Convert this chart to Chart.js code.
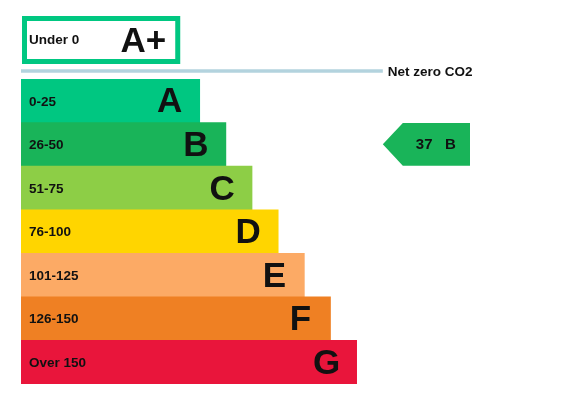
<!DOCTYPE html>
<html lang="en">
<head>
    <meta charset="UTF-8">
    <title>Energy rating</title>
    <style>
        html, body { margin: 0; padding: 0; background: #fff; }
        #epc { display: block; }
    </style>
</head>
<body>
    <canvas id="epc" width="577" height="400"></canvas>

    <script src="https://cdn.jsdelivr.net/npm/chart.js"></script>
    <script>
        // bands, from best to worst
        const bands = ['A', 'B', 'C', 'D', 'E', 'F', 'G'];
        const ranges = ['0-25', '26-50', '51-75', '76-100', '101-125', '126-150', 'Over 150'];
        const barLengths = [41, 47, 53, 59, 65, 71, 77];
        const bandColours = ['#00c781', '#19b459', '#8dce46', '#ffd500', '#fcaa65', '#ef8023', '#e9153b'];

        // extra band above the scale
        const topBand = 'A+';
        const topRange = 'Under 0';
        const netZeroLabel = 'Net zero CO2';

        // current rating
        const currentScore = 37;
        const currentBand = 'B';

        const arrowStart = 83;   // where the pointer starts, in x units
        const scaleMax = 103;

        const smallFont = 'bold 13.5px "Liberation Sans", Arial, sans-serif';
        const bigFont = 'bold 35px "Liberation Sans", Arial, sans-serif';

        const epcDecor = {
            id: 'epcDecor',
            afterDatasetsDraw(chart) {
                const ctx = chart.ctx;
                const x = chart.scales.x;
                const y = chart.scales.y;
                const area = chart.chartArea;
                const left = x.getPixelForValue(0);

                ctx.save();

                // labels on each bar
                bands.forEach((band, i) => {
                    const cy = y.getPixelForValue(i);
                    const right = x.getPixelForValue(barLengths[i]);
                    ctx.fillStyle = '#111';
                    ctx.textBaseline = 'middle';
                    ctx.textAlign = 'left';
                    ctx.font = smallFont;
                    ctx.fillText(ranges[i], left + 8, cy + 1);
                    ctx.textAlign = 'center';
                    ctx.font = bigFont;
                    ctx.fillText(band, right - 30, cy + 2);
                });

                // A+ box
                const boxTop = area.top - 63;
                const boxBottom = area.top - 15;
                const boxRight = x.getPixelForValue(36.3);
                ctx.strokeStyle = bandColours[0];
                ctx.lineWidth = 5;
                ctx.strokeRect(left + 3.5, boxTop + 2.5, boxRight - left - 5, boxBottom - boxTop - 5);
                ctx.fillStyle = '#111';
                ctx.textAlign = 'left';
                ctx.textBaseline = 'middle';
                ctx.font = smallFont;
                ctx.fillText(topRange, left + 8, (boxTop + boxBottom) / 2);
                ctx.textAlign = 'center';
                ctx.font = bigFont;
                ctx.fillText(topBand, boxRight - 36, (boxTop + boxBottom) / 2 + 2);

                // net zero line
                const lineY = area.top - 8;
                const lineEnd = x.getPixelForValue(arrowStart);
                ctx.strokeStyle = '#b3d3de';
                ctx.lineWidth = 3.5;
                ctx.beginPath();
                ctx.moveTo(left, lineY);
                ctx.lineTo(lineEnd, lineY);
                ctx.stroke();
                ctx.fillStyle = '#111';
                ctx.textAlign = 'left';
                ctx.font = smallFont;
                ctx.fillText(netZeroLabel, lineEnd + 5, lineY + 1);

                // pointer for the current rating
                const bi = bands.indexOf(currentBand);
                const cy = y.getPixelForValue(bi);
                const half = (y.getPixelForValue(1) - y.getPixelForValue(0)) / 2;
                const ax0 = x.getPixelForValue(arrowStart);
                const ax1 = x.getPixelForValue(scaleMax);
                const top = cy - half + 0.5;
                const bottom = cy + half - 0.5;
                ctx.fillStyle = bandColours[bi];
                ctx.beginPath();
                ctx.moveTo(ax0, cy);
                ctx.lineTo(ax0 + 20, top);
                ctx.lineTo(ax1, top);
                ctx.lineTo(ax1, bottom);
                ctx.lineTo(ax0 + 20, bottom);
                ctx.closePath();
                ctx.fill();
                ctx.fillStyle = '#111';
                ctx.textAlign = 'center';
                ctx.font = 'bold 15px "Liberation Sans", Arial, sans-serif';
                ctx.fillText(currentScore + '   ' + currentBand, ax0 + 53, cy + 1);

                ctx.restore();
            }
        };

        new Chart(document.getElementById('epc'), {
            type: 'bar',
            data: {
                labels: bands,
                datasets: [{
                    data: barLengths,
                    backgroundColor: bandColours,
                    borderWidth: 0,
                    categoryPercentage: 1,
                    barPercentage: 1
                }]
            },
            options: {
                indexAxis: 'y',
                responsive: false,
                animation: false,
                layout: { padding: { left: 21, top: 79, right: 107, bottom: 16 } },
                scales: {
                    x: { display: false, min: 0, max: scaleMax },
                    y: { display: false }
                },
                plugins: {
                    legend: { display: false },
                    tooltip: { enabled: false }
                }
            },
            plugins: [epcDecor]
        });
    </script>
</body>
</html>
